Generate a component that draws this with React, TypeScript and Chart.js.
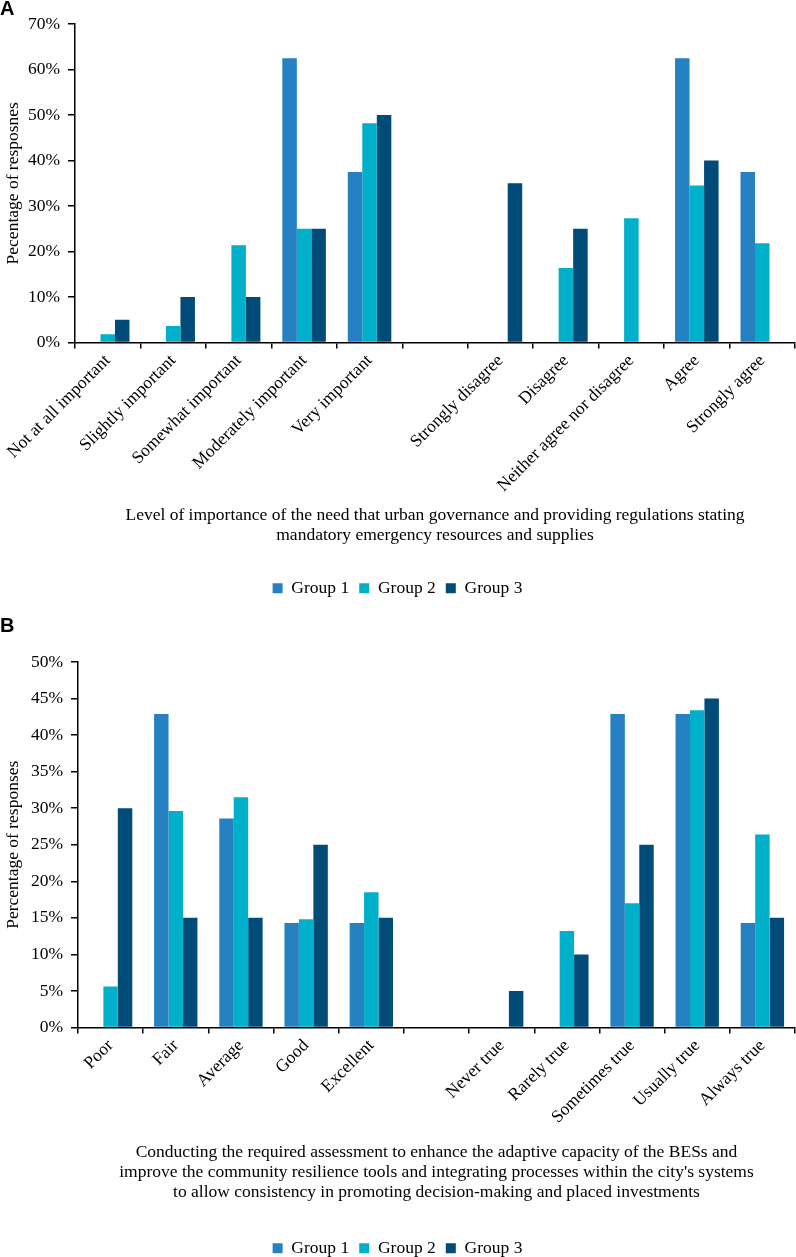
import React, { useEffect, useRef } from "react";
import { Chart, registerables } from "chart.js";

Chart.register(...registerables);

const groupNames = ["Group 1", "Group 2", "Group 3"];
const groupColors = ["#2681C2", "#00AFC9", "#004B77"];

const categoriesA = [
  "Not at all important",
  "Slightly important",
  "Somewhat important",
  "Moderately important",
  "Very important",
  "",
  "Strongly disagree",
  "Disagree",
  "Neither agree nor disagree",
  "Agree",
  "Strongly agree",
];
const groupA1 = [0, 0, 0, 62.5, 37.5, 0, 0, 0, 0, 62.5, 37.5];
const groupA2 = [1.8, 3.6, 21.4, 25, 48.2, 0, 0, 16.4, 27.3, 34.5, 21.8];
const groupA3 = [5, 10, 10, 25, 50, 0, 35, 25, 0, 40, 0];
const yTicksA = [0, 10, 20, 30, 40, 50, 60, 70];
const yTitleA = "Pecentage of resposnes";
const xTitleA = [
  "Level of importance of the need that urban governance and providing regulations stating",
  "mandatory emergency resources and supplies",
];

const categoriesB = [
  "Poor",
  "Fair",
  "Average",
  "Good",
  "Excellent",
  "",
  "Never true",
  "Rarely true",
  "Sometimes true",
  "Usually true",
  "Always true",
];
const groupB1 = [0, 42.9, 28.6, 14.3, 14.3, 0, 0, 0, 42.9, 42.9, 14.3];
const groupB2 = [5.6, 29.6, 31.5, 14.8, 18.5, 0, 0, 13.2, 17.0, 43.4, 26.4];
const groupB3 = [30, 15, 15, 25, 15, 0, 5, 10, 25, 45, 15];
const yTicksB = [0, 5, 10, 15, 20, 25, 30, 35, 40, 45, 50];
const yTitleB = "Percentage of responses";
const xTitleB = [
  "Conducting the required assessment to enhance the adaptive capacity of the BESs and",
  "improve the community resilience tools and integrating processes within the city's systems",
  "to allow consistency in promoting decision-making and placed investments",
];

const SERIF = "'Liberation Serif', 'Times New Roman', serif";
const FS = 17.5;

type PanelProps = {
  labels: string[];
  series: number[][];
  yTicks: number[];
  yTitle: string;
  xTitle: string[];
  height: number;
  padTop: number;
  yWidth: number;
  xHeight: number;
  titlePadBottom: number;
};

function Panel(props: PanelProps) {
  const ref = useRef<HTMLCanvasElement | null>(null);
  useEffect(() => {
    if (!ref.current) return;
    const yMax = props.yTicks[props.yTicks.length - 1];
    const step = props.yTicks[1] - props.yTicks[0];
    const chart = new Chart(ref.current, {
      type: "bar",
      data: {
        labels: props.labels,
        datasets: props.series.map((d, i) => ({
          label: groupNames[i],
          data: d,
          backgroundColor: groupColors[i],
          borderWidth: 0,
          categoryPercentage: 0.665,
          barPercentage: 1,
        })),
      },
      options: {
        animation: false,
        responsive: false,
        devicePixelRatio: 1,
        layout: { padding: { top: props.padTop, right: 1, left: 0, bottom: 0 } },
        plugins: {
          legend: {
            position: "bottom",
            labels: {
              boxWidth: 10,
              boxHeight: 10,
              color: "#000",
              padding: 10,
              font: { family: SERIF, size: FS },
            },
          },
          tooltip: { enabled: false },
        },
        scales: {
          x: {
            afterFit: (s: any) => {
              s.height = props.xHeight;
            },
            grid: {
              offset: true,
              drawOnChartArea: false,
              drawTicks: true,
              tickLength: 6,
              color: "#000",
              lineWidth: 1.5,
            },
            border: { color: "#000", width: 1.5 },
            ticks: {
              minRotation: 45,
              maxRotation: 45,
              autoSkip: false,
              color: "#000",
              padding: 2,
              font: { family: SERIF, size: FS },
            },
            title: {
              display: true,
              text: props.xTitle,
              color: "#000",
              font: { family: SERIF, size: FS, lineHeight: 20 / FS },
              padding: { top: 0, bottom: props.titlePadBottom },
            },
          },
          y: {
            min: 0,
            max: yMax,
            afterFit: (s: any) => {
              s.width = props.yWidth;
            },
            afterBuildTicks: (s: any) => {
              s.ticks = props.yTicks.map((v) => ({ value: v }));
            },
            grid: {
              drawOnChartArea: false,
              drawTicks: true,
              tickLength: 7,
              color: "#000",
              lineWidth: 1.5,
            },
            border: { color: "#000", width: 1.5 },
            ticks: {
              stepSize: step,
              color: "#000",
              padding: 8,
              font: { family: SERIF, size: FS },
              callback: (v: any) => `${v}%`,
            },
            title: {
              display: true,
              text: props.yTitle,
              color: "#000",
              font: { family: SERIF, size: FS },
              padding: { top: 3, bottom: 0 },
            },
          },
        },
      },
    } as any);
    return () => chart.destroy();
  }, []);
  return (
    <canvas
      ref={ref}
      width={796}
      height={props.height}
      style={{ display: "block", width: 796, height: props.height }}
    />
  );
}

const letterStyle: React.CSSProperties = {
  position: "absolute",
  left: 0,
  fontFamily: "'Liberation Sans', Arial, sans-serif",
  fontWeight: 700,
  fontSize: 20,
  lineHeight: "20px",
  color: "#000",
};

export default function App() {
  return (
    <div
      style={{
        position: "absolute",
        left: 0,
        top: 0,
        width: 796,
        height: 1257,
        overflow: "hidden",
        background: "#fff",
      }}
    >
      <div style={{ position: "absolute", left: 0, top: 0 }}>
        <Panel
          labels={categoriesA}
          series={[groupA1, groupA2, groupA3]}
          yTicks={yTicksA}
          yTitle={yTitleA}
          xTitle={xTitleA}
          height={607}
          padTop={24}
          yWidth={75}
          xHeight={227}
          titlePadBottom={24}
        />
      </div>
      <div style={{ position: "absolute", left: 0, top: 607 }}>
        <Panel
          labels={categoriesB}
          series={[groupB1, groupB2, groupB3]}
          yTicks={yTicksB}
          yTitle={yTitleB}
          xTitle={xTitleB}
          height={660}
          padTop={55}
          yWidth={78}
          xHeight={202}
          titlePadBottom={27}
        />
      </div>
      <div style={{ ...letterStyle, top: -2 }}>A</div>
      <div style={{ ...letterStyle, top: 615 }}>B</div>
    </div>
  );
}
